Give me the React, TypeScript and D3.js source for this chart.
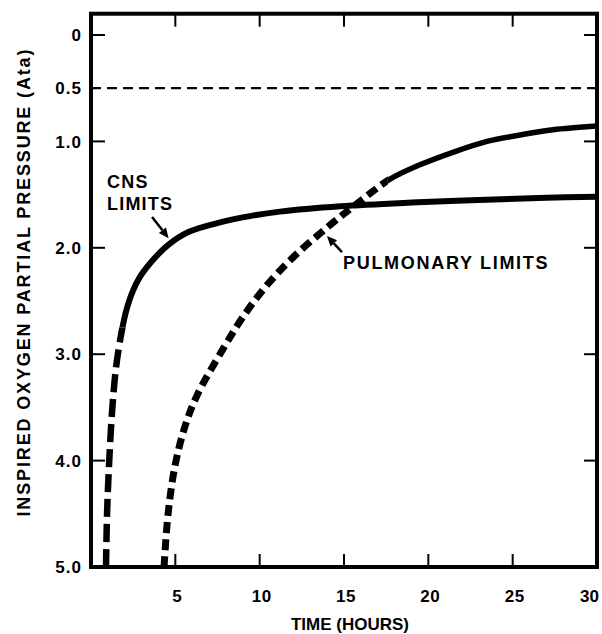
import * as d3 from "d3";

const W = 602;
const H = 634;

// hours, Ata
const cnsCurve: [number, number][] = [
  [0.89, 5.0], [0.95, 4.51], [1.07, 4.04], [1.245, 3.55], [1.48, 3.13], [1.78, 2.82],
  [2.075, 2.6], [2.43, 2.425], [2.9, 2.274], [3.62, 2.124], [4.565, 1.974], [5.81, 1.85],
  [7.77, 1.757], [9.5, 1.7], [11.2, 1.66], [14.8, 1.61], [19, 1.575], [23, 1.55], [27, 1.53],
  [30, 1.52],
];
const cnsSolidFrom = 2.75; // Ata: above this the CNS curve is drawn solid

const pulmCurve: [number, number][] = [
  [4.33, 5.0], [4.57, 4.5], [4.98, 4.05], [5.57, 3.68], [6.28, 3.39], [7.83, 2.95], [9.01, 2.65],
  [10.38, 2.36], [11.98, 2.09], [13.99, 1.81], [15.65, 1.6], [17.73, 1.355], [19.5, 1.22],
  [21.5, 1.1], [23.48, 1.0], [25.43, 0.94], [27.39, 0.89], [30, 0.855],
];
const pulmSolidFrom = 17.6; // hours: after this the pulmonary curve is drawn solid

const yTicks = [0, 0.5, 1.0, 2.0, 3.0, 4.0, 5.0];
const yTickLabels = ["0", "0.5", "1.0", "2.0", "3.0", "4.0", "5.0"];
const yInnerTicks = [0, 1, 2, 3, 4];
const xTicks = [5, 10, 15, 20, 25, 30];
const xTickLabels = ["5", "10", "15", "20", "25", "30"];
const xInnerTicks = [5, 10, 15, 20, 25];
const refLevel = 0.5;

const cnsLabel = { lines: ["CNS", "LIMITS"], at: [0.95, 1.435] as [number, number] };
const cnsArrow = { from: [3.62, 1.71] as [number, number], to: [4.6, 1.91] as [number, number] };
const pulmLabel = { text: "PULMONARY LIMITS", at: [14.94, 2.2] as [number, number] };
const pulmArrow = { from: [14.88, 2.04] as [number, number], to: [13.99, 1.89] as [number, number] };

const font = "'Liberation Sans', Arial, sans-serif";

const x = d3.scaleLinear().domain([0, 30]).range([91, 597]);
const y = d3.scaleLinear().domain([0, 5]).range([35, 567]);

const line = d3
  .line<[number, number]>()
  .x((d) => x(d[0]))
  .y((d) => y(d[1]))
  .curve(d3.curveCatmullRom.alpha(0.5));

const Arrow = ({ from, to }: { from: [number, number]; to: [number, number] }) => {
  const x1 = x(from[0]), y1 = y(from[1]);
  const x2 = x(to[0]), y2 = y(to[1]);
  const a = Math.atan2(y2 - y1, x2 - x1);
  const len = 10, hw = 4.5;
  const bx = x2 - len * Math.cos(a), by = y2 - len * Math.sin(a);
  const pts = [
    [x2, y2],
    [bx + hw * Math.sin(a), by - hw * Math.cos(a)],
    [bx - hw * Math.sin(a), by + hw * Math.cos(a)],
  ];
  return (
    <g>
      <line x1={x1} y1={y1} x2={bx} y2={by} stroke="#000" strokeWidth={2.5} />
      <polygon points={pts.map((p) => p.join(",")).join(" ")} fill="#000" />
    </g>
  );
};

export default function App() {
  const top = y(-0.2);
  const bottom = y(5);
  const left = x(0);
  const right = x(30);
  const cnsD = line(cnsCurve) || "";
  const pulmD = line(pulmCurve) || "";
  return (
    <svg
      width={W}
      height={H}
      style={{ position: "absolute", left: 0, top: 0, background: "#fff" }}
      fontFamily={font}
      fontWeight={700}
    >
      <defs>
        <clipPath id="cnsDash">
          <rect x={0} y={y(cnsSolidFrom)} width={W} height={H} />
        </clipPath>
        <clipPath id="cnsSolid">
          <rect x={0} y={0} width={W} height={y(cnsSolidFrom)} />
        </clipPath>
        <clipPath id="pulmDash">
          <rect x={0} y={0} width={x(pulmSolidFrom)} height={H} />
        </clipPath>
        <clipPath id="pulmSolid">
          <rect x={x(pulmSolidFrom)} y={0} width={W} height={H} />
        </clipPath>
      </defs>
      <rect x={0} y={0} width={W} height={H} fill="#fff" />

      {/* reference dashed line at 0.5 Ata */}
      <line
        x1={left}
        x2={right}
        y1={y(refLevel)}
        y2={y(refLevel)}
        stroke="#000"
        strokeWidth={2.2}
        strokeDasharray="10,6"
      />

      {/* curves */}
      <path d={cnsD} fill="none" stroke="#000" strokeWidth={6.5} strokeDasharray="18,7" clipPath="url(#cnsDash)" />
      <path d={cnsD} fill="none" stroke="#000" strokeWidth={6} clipPath="url(#cnsSolid)" />
      <path d={pulmD} fill="none" stroke="#000" strokeWidth={7} strokeDasharray="11,6" clipPath="url(#pulmDash)" />
      <path d={pulmD} fill="none" stroke="#000" strokeWidth={5.5} clipPath="url(#pulmSolid)" />

      {/* frame */}
      <rect x={left} y={top} width={right - left} height={bottom - top} fill="none" stroke="#000" strokeWidth={4} />

      {/* inward ticks */}
      {yInnerTicks.map((t) => (
        <g key={"yt" + t}>
          <line x1={left} x2={left + 14} y1={y(t)} y2={y(t)} stroke="#000" strokeWidth={2} />
          <line x1={right} x2={right - 13} y1={y(t)} y2={y(t)} stroke="#000" strokeWidth={2} />
        </g>
      ))}
      {xInnerTicks.map((t) => (
        <g key={"xt" + t}>
          <line x1={x(t)} x2={x(t)} y1={bottom} y2={bottom - 13} stroke="#000" strokeWidth={2} />
          <line x1={x(t)} x2={x(t)} y1={top} y2={top + 13} stroke="#000" strokeWidth={2} />
        </g>
      ))}

      {/* y tick labels */}
      {yTicks.map((t, i) => (
        <text key={"yl" + t} x={82} y={y(t)} dy="0.36em" textAnchor="end" fontSize={17} letterSpacing={1}>
          {yTickLabels[i]}
        </text>
      ))}

      {/* x tick labels */}
      {xTicks.map((t, i) => {
        const last = i === xTicks.length - 1;
        return (
          <text
            key={"xl" + t}
            x={last ? W - 3 : x(t) + 2}
            y={602}
            textAnchor={last ? "end" : "middle"}
            fontSize={17}
            letterSpacing={last ? 0 : 0.5}
          >
            {xTickLabels[i]}
          </text>
        );
      })}

      {/* axis titles */}
      <text x={350} y={630} textAnchor="middle" fontSize={17}>
        TIME (HOURS)
      </text>
      <text
        transform={`translate(23.5,283) rotate(-90)`}
        textAnchor="middle"
        dy="0.36em"
        fontSize={18}
        textLength={467}
        lengthAdjust="spacing"
      >
        INSPIRED OXYGEN PARTIAL PRESSURE (Ata)
      </text>

      {/* annotations */}
      {cnsLabel.lines.map((s, i) => (
        <text key={s} x={x(cnsLabel.at[0])} y={y(cnsLabel.at[1]) + i * 22} fontSize={18} letterSpacing={1.2}>
          {s}
        </text>
      ))}
      <Arrow from={cnsArrow.from} to={cnsArrow.to} />
      <text x={x(pulmLabel.at[0])} y={y(pulmLabel.at[1])} fontSize={18} letterSpacing={1.7}>
        {pulmLabel.text}
      </text>
      <Arrow from={pulmArrow.from} to={pulmArrow.to} />
    </svg>
  );
}
